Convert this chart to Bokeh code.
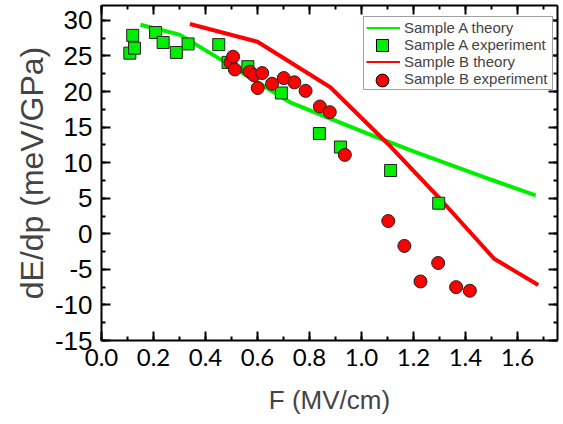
from bokeh.plotting import figure
from bokeh.models import (Range1d, LinearAxis, SingleIntervalTicker, PrintfTickFormatter,
                          Legend, LegendItem)
from bokeh.embed import file_html
from bokeh.resources import INLINE

# ---------------- data ----------------
theory_A_F = [0.15, 0.30, 0.45, 0.60, 0.73, 0.88, 1.05, 1.20, 1.35, 1.50, 1.67]
theory_A_v = [29.4, 28.0, 24.7, 21.3, 18.4, 16.2, 13.7, 11.6, 9.6, 7.6, 5.4]

theory_B_F = [0.34, 0.60, 0.88, 1.10, 1.30, 1.51, 1.68]
theory_B_v = [29.5, 27.0, 20.6, 12.7, 5.0, -3.5, -7.2]

exp_A_F = [0.109, 0.120, 0.127, 0.208, 0.237, 0.288, 0.333, 0.451, 0.487, 0.563,
           0.692, 0.838, 0.919, 1.112, 1.297]
exp_A_v = [25.4, 27.9, 26.1, 28.3, 26.9, 25.5, 26.7, 26.6, 24.1, 23.5,
           19.8, 14.1, 12.2, 8.9, 4.3]

exp_B_F = [0.496, 0.506, 0.513, 0.570, 0.586, 0.601, 0.618, 0.656, 0.701, 0.742,
           0.785, 0.840, 0.878, 0.936, 1.103, 1.165, 1.227, 1.295, 1.364, 1.417]
exp_B_v = [24.1, 24.9, 23.1, 22.8, 22.3, 20.5, 22.6, 21.1, 21.9, 21.3,
           20.1, 17.9, 17.1, 11.1, 1.8, -1.7, -6.7, -4.1, -7.5, -8.0]

labels = ["Sample A theory", "Sample A experiment", "Sample B theory", "Sample B experiment"]
x_label = "F (MV/cm)"
y_label = "dE/dp (meV/GPa)"

GREEN = "#00ee00"
RED = "#ff0000"
NAN = float("nan")

p = figure(width=563, height=424, output_backend="svg", toolbar_location=None,
           x_range=Range1d(0, 1.754), y_range=Range1d(-15, 32.1),
           x_axis_type=None, y_axis_type=None,
           min_border_left=101, min_border_right=6, min_border_top=5, min_border_bottom=84)
p.outline_line_color = None
p.xgrid.visible = False
p.ygrid.visible = False
p.background_fill_color = "white"

xt = SingleIntervalTicker(interval=0.2, num_minor_ticks=2)
yt = SingleIntervalTicker(interval=5, num_minor_ticks=2)


def style_axis(ax):
    ax.axis_line_width = 2
    ax.axis_line_color = "black"
    ax.major_tick_in = 9
    ax.major_tick_out = 0
    ax.minor_tick_in = 4
    ax.minor_tick_out = 0
    ax.major_tick_line_width = 2
    ax.minor_tick_line_width = 2
    ax.major_tick_line_color = "black"
    ax.minor_tick_line_color = "black"


xb = LinearAxis(ticker=xt, formatter=PrintfTickFormatter(format="%.1f"), axis_label=x_label)
style_axis(xb)
xb.major_label_text_font = "Lato"
xb.major_label_text_font_size = "24px"
xb.major_label_text_color = "black"
xb.major_label_standoff = 8
xb.axis_label_text_font = "Liberation Sans"
xb.axis_label_text_font_size = "26px"
xb.axis_label_text_font_style = "normal"
xb.axis_label_standoff = 16
p.add_layout(xb, "below")

yl = LinearAxis(ticker=yt, formatter=PrintfTickFormatter(format="%d"), axis_label=y_label)
style_axis(yl)
yl.major_label_text_font = "Liberation Sans"
yl.major_label_text_font_size = "26px"
yl.major_label_text_color = "black"
yl.major_label_standoff = 9
yl.axis_label_text_font = "Liberation Sans"
yl.axis_label_text_font_size = "32px"
yl.axis_label_text_font_style = "normal"
yl.axis_label_standoff = 2
p.add_layout(yl, "left")

xa = LinearAxis(ticker=xt)
style_axis(xa)
xa.major_label_text_color = None
xa.major_label_text_font_size = "0px"
xa.major_label_standoff = 0
p.add_layout(xa, "above")

yr = LinearAxis(ticker=yt)
style_axis(yr)
yr.major_label_text_color = None
yr.major_label_text_font_size = "0px"
yr.major_label_standoff = 0
p.add_layout(yr, "right")

# data marks
p.line(theory_A_F, theory_A_v, line_color=GREEN, line_width=4)
p.line(theory_B_F, theory_B_v, line_color=RED, line_width=4)
p.scatter(exp_A_F, exp_A_v, marker="square", size=12, fill_color=GREEN,
          line_color="#222222", line_width=1)
p.scatter(exp_B_F, exp_B_v, marker="circle", size=13, fill_color=RED,
          line_color="#222222", line_width=1)

# legend proxies (no visible data)
lg_A = p.line([NAN], [NAN], line_color=GREEN, line_width=2)
lg_blank = p.line([NAN], [NAN], line_alpha=0)
lg_B = p.line([NAN], [NAN], line_color=RED, line_width=2)
lg_As = p.scatter([NAN], [NAN], marker="square", fill_color=GREEN, line_color="black", line_width=1)
lg_Bs = p.scatter([NAN], [NAN], marker="circle", fill_color=RED, line_color="black", line_width=1)

common = dict(orientation="vertical", margin=0, label_standoff=4,
              label_text_font="Liberation Sans", label_text_font_size="15px")

legend = Legend(items=[LegendItem(label=labels[0], renderers=[lg_A]),
                       LegendItem(label=labels[1], renderers=[lg_blank]),
                       LegendItem(label=labels[2], renderers=[lg_B]),
                       LegendItem(label=labels[3], renderers=[lg_blank])],
                location=(262, 250), glyph_width=34, glyph_height=17, label_height=17,
                label_width=146, spacing=0, padding=2,
                border_line_color="#444444", border_line_width=1,
                background_fill_color="white", background_fill_alpha=1.0, **common)
p.add_layout(legend, "center")

# larger legend markers (same glyph centres as rows 2 and 4)
leg_sq = Legend(items=[LegendItem(label=" ", renderers=[lg_As])],
                location=(264, 280), glyph_width=34, glyph_height=30, label_height=30,
                label_width=0, spacing=0, padding=0,
                border_line_color=None, background_fill_alpha=0, **common)
leg_ci = Legend(items=[LegendItem(label=" ", renderers=[lg_Bs])],
                location=(264, 244), glyph_width=34, glyph_height=32, label_height=32,
                label_width=0, spacing=0, padding=0,
                border_line_color=None, background_fill_alpha=0, **common)
p.add_layout(leg_sq, "center")
p.add_layout(leg_ci, "center")

open("out.html", "w").write(file_html(p, INLINE))
